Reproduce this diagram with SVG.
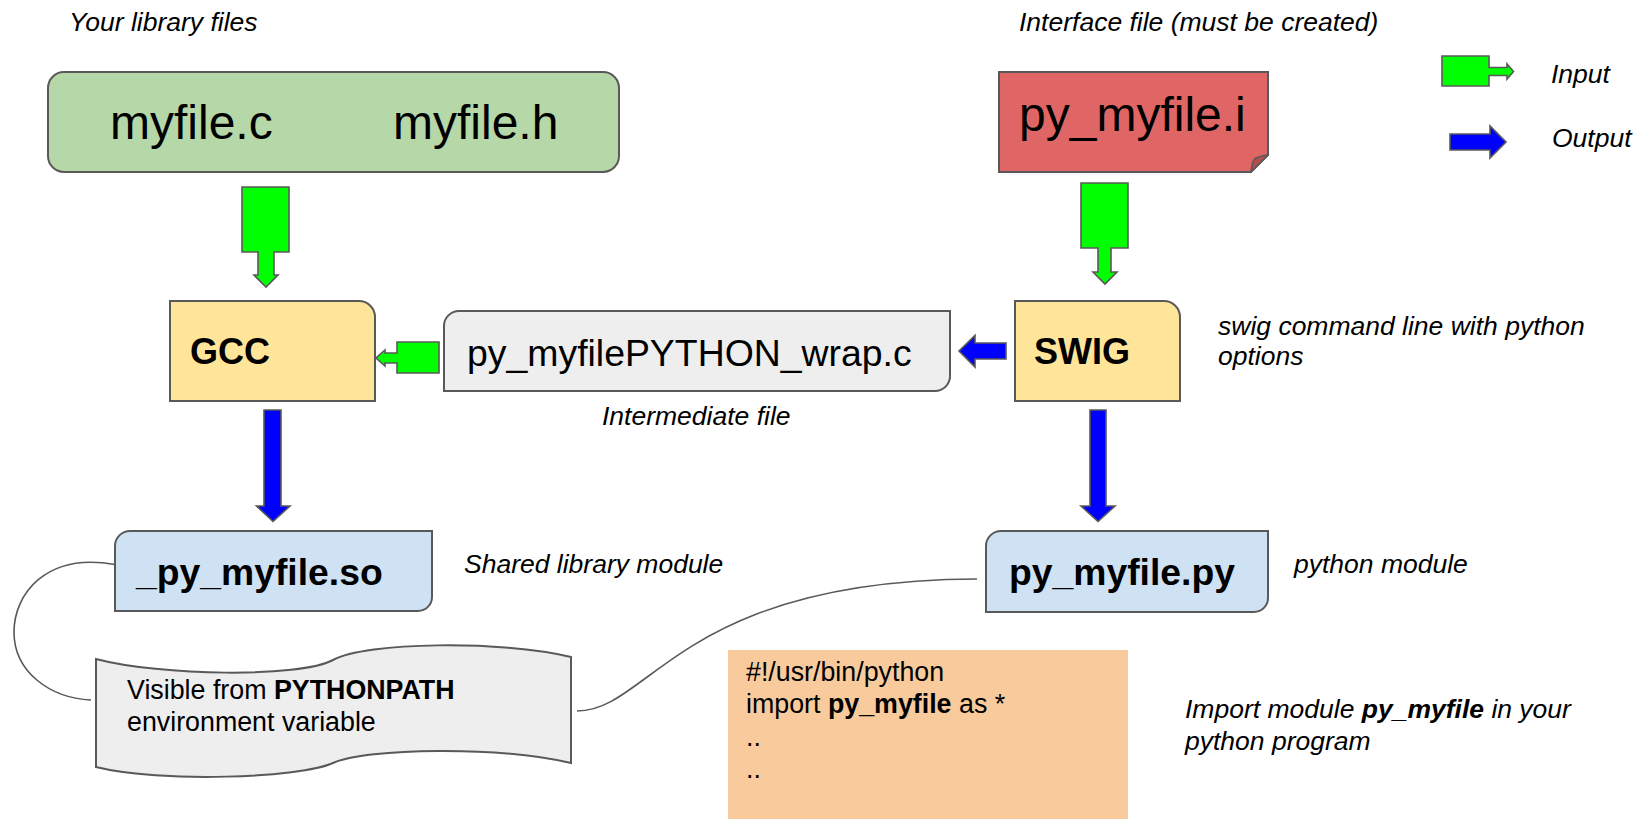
<svg xmlns="http://www.w3.org/2000/svg" width="1635" height="819" viewBox="0 0 1635 819">
  <style>
    text { font-family: "Liberation Sans", Arial, sans-serif; fill: #000; }
    .note { font-size: 26.5px; font-style: italic; }
    .body { font-size: 26.8px; }
    .big { font-size: 48px; }
    .mid { font-size: 37.4px; }
    .tool { font-size: 36px; font-weight: bold; }
    .mod { font-size: 37.3px; font-weight: bold; }
    .b { font-weight: bold; }
    .box { stroke: #595959; stroke-width: 2; }
    .in { fill: #00ff00; stroke: #595959; stroke-width: 1.6; stroke-linejoin: miter; }
    .out { fill: #0000ff; stroke: #595959; stroke-width: 1.6; stroke-linejoin: miter; }
    .link { fill: none; stroke: #595959; stroke-width: 1.6; }
  </style>

  <rect width="1635" height="819" fill="#ffffff"/>

  <!-- side labels -->
  <g id="labels">
    <text class="note" x="69" y="31">Your library files</text>
    <text class="note" x="1019" y="31">Interface file (must be created)</text>
    <text class="note" x="602" y="425">Intermediate file</text>
    <text class="note" x="1218" y="335">swig command line with python</text>
    <text class="note" x="1218" y="365">options</text>
    <text class="note" x="464" y="573">Shared library module</text>
    <text class="note" x="1294" y="573">python module</text>
    <text class="note" x="1185" y="718">Import module <tspan class="b">py_myfile</tspan> in your</text>
    <text class="note" x="1185" y="750">python program</text>
  </g>

  <!-- legend -->
  <g id="legend">
    <polygon class="in" points="1442,56 1489,56 1489,67.5 1507,67.5 1507,64 1513.5,71.5 1507,79 1507,75.5 1489,75.5 1489,86 1442,86"/>
    <text class="note" x="1551" y="83">Input</text>
    <polygon class="out" points="1450,134 1490,134 1490,126 1506,142 1490,158 1490,150 1450,150"/>
    <text class="note" x="1552" y="147">Output</text>
  </g>

  <!-- source files -->
  <g id="library-files">
    <rect class="box" x="48" y="72" width="571" height="100" rx="16" ry="16" fill="#b6d7a8"/>
    <text class="big" x="110" y="139">myfile.c</text>
    <text class="big" x="393" y="139">myfile.h</text>
  </g>

  <!-- interface file with folded corner -->
  <g id="interface-file">
    <path class="box" d="M999,72 H1268 V155 L1251,172 H999 Z" fill="#e06666"/>
    <path d="M1268,155 L1251,172 Q1252,161 1255,158.5 Q1259,156 1268,155 Z" fill="#b34d4d" stroke="#595959" stroke-width="1.5" stroke-linejoin="round"/>
    <text class="big" x="1019" y="131">py_myfile.i</text>
  </g>

  <g id="gcc">
    <path class="box" d="M170,301 H359 A16,16 0 0 1 375,317 V401 H170 Z" fill="#ffe599"/>
    <text class="tool" x="190" y="364">GCC</text>
  </g>

  <g id="wrapper">
    <path class="box" d="M459,311 H950 V376 A15,15 0 0 1 935,391 H444 V326 A15,15 0 0 1 459,311 Z" fill="#eeeeee"/>
    <text class="mid" x="467" y="366">py_myfilePYTHON_wrap.c</text>
  </g>

  <g id="swig">
    <path class="box" d="M1015,301 H1164 A16,16 0 0 1 1180,317 V401 H1015 Z" fill="#ffe599"/>
    <text class="tool" x="1034" y="364">SWIG</text>
  </g>

  <g id="shared-lib">
    <path class="box" d="M130,531 H432 V597 A14,14 0 0 1 418,611 H115 V546 A15,15 0 0 1 130,531 Z" fill="#cfe2f3"/>
    <text class="mod" x="136" y="585">_py_myfile.so</text>
  </g>

  <g id="py-module">
    <path class="box" d="M1001,531 H1268 V598 A14,14 0 0 1 1254,612 H986 V546 A15,15 0 0 1 1001,531 Z" fill="#cfe2f3"/>
    <text class="mod" x="1009" y="585">py_myfile.py</text>
  </g>

  <g id="pythonpath">
    <path class="box" stroke-width="1.6" fill="#eeeeee" d="M96,659 C160,676 300,678 333,660 C366,642 500,640 571,657 L571,763 C500,746 366,748 333,763 C300,778 160,783 96,767 Z"/>
    <text class="body" x="127" y="699">Visible from <tspan class="b">PYTHONPATH</tspan></text>
    <text class="body" x="127" y="731">environment variable</text>
  </g>

  <g id="program">
    <rect x="728" y="650" width="400" height="175" fill="#f9cb9c"/>
    <text class="body" x="746" y="681">#!/usr/bin/python</text>
    <text class="body" x="746" y="713">import <tspan class="b">py_myfile</tspan> as *</text>
    <text class="body" x="746" y="746">..</text>
    <text class="body" x="746" y="778">..</text>
  </g>

  <!-- connectors: block arrows and curved links -->
  <g id="connectors">
    <polygon class="in" points="242,187 289,187 289,252 274,252 274,275 278,275 266,287 254,275 258,275 258,252 242,252"/>
    <polygon class="in" points="1081,183 1128,183 1128,248 1111,248 1111,272 1117,272 1105,284 1093,272 1098,272 1098,248 1081,248"/>
    <polygon class="in" points="439,342 439,373 397,373 397,363 385,363 385,366 376,358 385,350 385,353 397,353 397,342"/>
    <polygon class="out" points="1006,343 975,343 975,335.5 959,351 975,367 975,359 1006,359"/>
    <polygon class="out" points="264,410 281,410 281,506 290,506 273,521.5 256.5,506 264,506"/>
    <polygon class="out" points="1090,410 1106,410 1106,506 1115,506 1098,521.5 1081,506 1090,506"/>
    <path class="link" d="M115,564.5 C45,552 14,595 14,632 C14,672 50,698 91,700"/>
    <path class="link" d="M577,711 C650,711 680,580 977,579"/>
  </g>
</svg>
